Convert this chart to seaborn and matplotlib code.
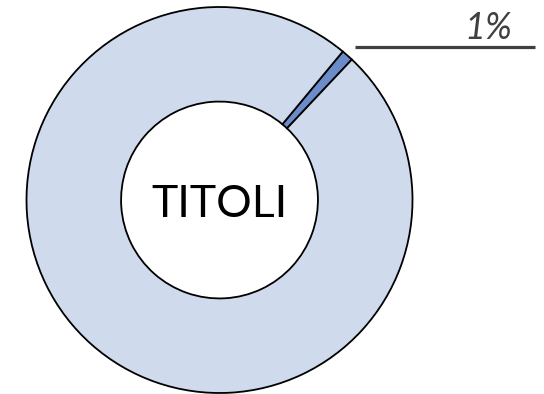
import matplotlib
matplotlib.use("Agg")
import matplotlib.pyplot as plt
import numpy as np
import seaborn as sns

# data ------------------------------------------------------------------------
categories = ["TITOLI", "ALTRO"]
values = [1, 99]
pct_labels = ["1%", ""]
centre_label = "TITOLI"

colors = ["#6b8cc9", "#cfdaec"]

sns.set_theme(style="white")
plt.rcParams['font.family'] = ['Lato', 'DejaVu Sans']

fig = plt.figure(figsize=(5.44, 3.94), dpi=100)
ax = fig.add_axes([0, 0, 1, 1])

# pixel scale: radius 1 -> 193 px, centre at (219.5, 200) px
scale = 193.0
cx, cy = 219.5, 200.0

# small slice centred at ~48.5 deg
mid_angle = 48.5
start = mid_angle - 360 * values[0] / sum(values) / 2

wedges, _ = ax.pie(
    values,
    colors=colors,
    startangle=start,
    radius=1,
    wedgeprops=dict(width=0.49, edgecolor="black", linewidth=1.3),
)
ax.set_xlim(-cx / scale, (544 - cx) / scale)
ax.set_ylim(-(394 - cy) / scale, cy / scale)
ax.set_aspect("auto")
ax.axis("off")

# centre label
ax.text(0, -0.088, centre_label, ha="center", va="baseline", fontsize=32,
        color="black")

# leader line + percentage
th = np.deg2rad(mid_angle)
ly = np.sin(th) * 1.06
lx0 = np.cos(th) * 1.06
ax.plot([lx0, 1.635], [ly, ly], color="#404040", linewidth=2.3,
        solid_capstyle="butt")
ax.text(1.516, ly + 0.04, pct_labels[0], ha="right", va="baseline",
        fontsize=26, style="italic", color="#404040")

fig.savefig("out.png", dpi=100)
